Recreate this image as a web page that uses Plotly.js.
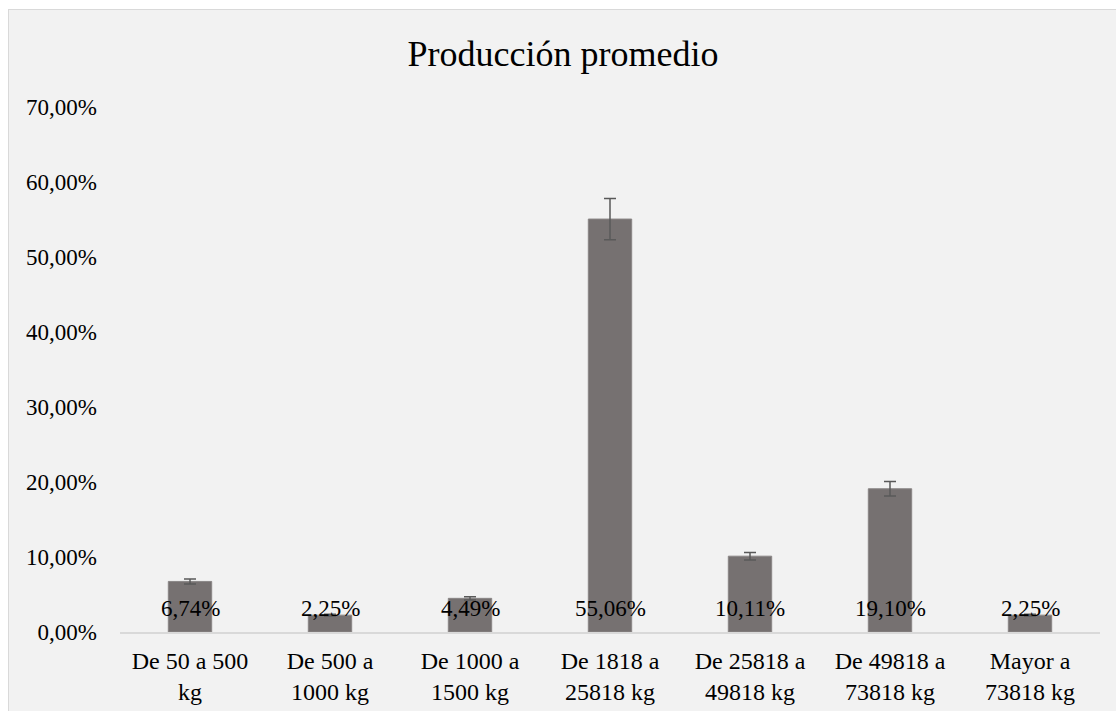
<!DOCTYPE html>
<html>
<head>
<meta charset="utf-8">
<script src="https://cdn.plot.ly/plotly-3.0.1.min.js"></script>
<style>
html,body{margin:0;padding:0;background:#ffffff;overflow:hidden;width:1116px;height:711px;}
#frame{position:absolute;left:8px;top:9px;width:1120px;height:720px;border:1px solid #d9d9d9;background:#f2f2f2;}
#chart{position:absolute;left:0;top:0;width:1108px;height:702px;}
</style>
</head>
<body>
<div id="frame"><div id="chart"></div></div>
<script>
const categories = ["De 50 a 500<br>kg","De 500 a<br>1000 kg","De 1000 a<br>1500 kg","De 1818 a<br>25818 kg","De 25818 a<br>49818 kg","De 49818 a<br>73818 kg","Mayor a<br>73818 kg"];
const values = [6.74, 2.25, 4.49, 55.06, 10.11, 19.10, 2.25];
const errorPercent = 5;
const yTicks = [0,10,20,30,40,50,60,70];

const FONT = '"Liberation Serif", "Times New Roman", serif';
function fmt(v){ return v.toFixed(2).replace('.', ',') + '%'; }

const trace = {
  type: 'bar',
  x: categories,
  y: values,
  marker: {color: '#767171', line: {color: '#8a8686', width: 1}},
  error_y: {type: 'percent', value: errorPercent, visible: true, color: '#595959', thickness: 1.5, width: 6},
  hoverinfo: 'none'
};

const annotations = categories.map((c, i) => ({
  x: c, y: 0, xref: 'x', yref: 'y',
  text: fmt(values[i]), showarrow: false,
  yanchor: 'middle', yshift: 24,
  font: {family: FONT, size: 23, color: '#000000'}
}));

const layout = {
  width: 1108, height: 702,
  margin: {l: 111, r: 17, t: 97, b: 80},
  paper_bgcolor: '#f2f2f2',
  plot_bgcolor: '#f2f2f2',
  font: {family: FONT, size: 23, color: '#000000'},
  title: {text: 'Producción promedio', x: 0.5, xanchor: 'center', y: 0.938, yanchor: 'middle',
          font: {family: FONT, size: 36, color: '#000000'}},
  bargap: 0.69,
  showlegend: false,
  xaxis: {
    showline: true, linecolor: '#d9d9d9', linewidth: 2, ticks: '', showgrid: false,
    tickfont: {family: FONT, size: 24, color: '#000000'}, ticklabelstandoff: 6, fixedrange: true
  },
  yaxis: {
    range: [0, 70], tickvals: yTicks, ticktext: yTicks.map(fmt),
    showgrid: false, zeroline: false, showline: false, ticks: '',
    tickfont: {family: FONT, size: 23, color: '#000000'}, ticklabelstandoff: 22, fixedrange: true
  },
  annotations: annotations
};

Plotly.newPlot('chart', [trace], layout, {displayModeBar: false, staticPlot: true});
</script>
</body>
</html>
